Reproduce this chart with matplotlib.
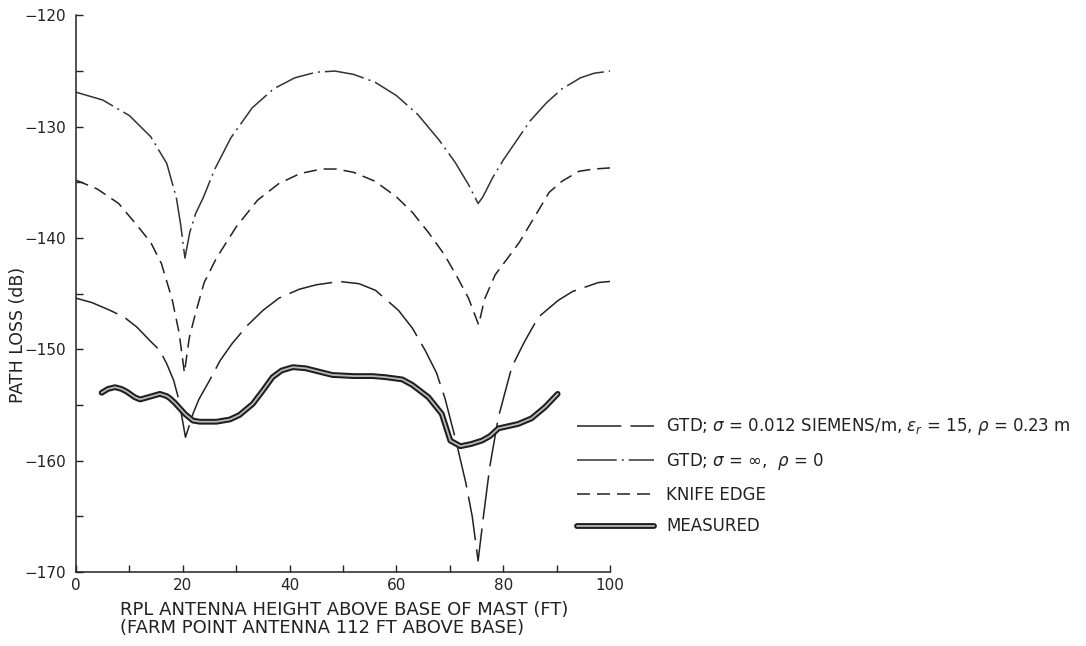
import matplotlib
matplotlib.use("Agg")
import matplotlib.pyplot as plt
import matplotlib.patheffects as pe

# ---------------- data ----------------
# GTD; sigma = infinity, rho = 0  (dash-dot, top curve)
x_inf = [0, 5, 10, 14, 17, 18.8, 19.6, 20.4, 21.3, 22.4, 23.8, 26, 29, 33, 37, 41, 45,
         48.5, 52, 56, 60, 64, 68, 71, 73.5, 75.3, 76.2, 78, 80, 82, 85, 88, 91, 94.5, 97, 100]
y_inf = [-126.9, -127.6, -129.0, -130.9, -133.3, -136.4, -138.8, -141.8, -139.5, -137.8,
         -136.4, -133.8, -131.0, -128.3, -126.6, -125.6, -125.1, -125.0, -125.3, -126.0,
         -127.2, -128.9, -131.2, -133.2, -135.2, -136.9, -136.3, -134.6, -133.0, -131.6,
         -129.5, -127.9, -126.6, -125.6, -125.2, -125.0]

# Knife edge (short dashes)
x_ke = [0, 4, 8, 11.5, 14, 16, 18, 19.3, 20.3, 21.2, 22.3, 24, 26.3, 30, 34, 38, 42, 46,
        48.8, 52, 56, 60, 63, 66, 69, 71.5, 73.5, 75.4, 76.5, 78.5, 81, 83, 86, 88.6, 91,
        94.2, 97, 100]
y_ke = [-134.8, -135.6, -136.9, -138.9, -140.4, -142.3, -145.5, -148.5, -152.1, -149.0,
        -146.9, -144.0, -141.8, -139.0, -136.6, -135.1, -134.2, -133.8, -133.8, -134.1,
        -134.9, -136.3, -137.7, -139.5, -141.5, -143.6, -145.4, -147.8, -145.5, -143.3,
        -141.7, -140.4, -138.0, -135.9, -134.9, -134.0, -133.8, -133.7]

# GTD; sigma = 0.012 S/m, eps_r = 15, rho = 0.23 m (long dashes)
x_gtd = [0, 3, 6.4, 9, 11.4, 13.8, 15.7, 17, 18.3, 19.3, 20.5, 21.9, 23, 25, 27, 29.2, 32,
         35, 38, 41.8, 45, 49.3, 53, 56.1, 60.4, 63, 65.4, 67.5, 69.1, 71.3, 73, 74.2, 75.3,
         76.3, 77.5, 79.1, 81.6, 84, 86.6, 90.3, 93, 97.8, 100]
y_gtd = [-145.4, -145.8, -146.5, -147.1, -148.0, -149.2, -150.1, -151.3, -152.8, -154.6,
         -157.9, -155.8, -154.5, -152.8, -151.0, -149.5, -147.9, -146.5, -145.4, -144.6,
         -144.2, -143.9, -144.1, -144.7, -146.5, -148.1, -150.1, -152.1, -154.4, -158.5,
         -162.0, -165.0, -169.0, -165.0, -160.5, -156.1, -151.6, -149.3, -147.1, -145.6,
         -144.8, -144.0, -143.9]

# Measured
x_meas = [4.8, 6, 7.3, 8.5, 9.5, 11, 12, 13.5, 15.7, 17, 17.6, 18.5, 20.4, 21.9, 23.2,
          26.3, 28.8, 30.6, 33.1, 35, 36.8, 38.5, 40.6, 43.0, 45.5, 48.0, 52, 55.5, 58,
          61.1, 63, 66.0, 68.5, 70.1, 72, 74, 76, 77.5, 79.1, 82.8, 85.3, 87.8, 90.2]
y_meas = [-153.9, -153.55, -153.4, -153.55, -153.8, -154.3, -154.5, -154.3, -154.0,
          -154.2, -154.4, -154.8, -155.8, -156.4, -156.5, -156.5, -156.3, -155.9, -154.9,
          -153.7, -152.5, -151.9, -151.6, -151.7, -152.0, -152.3, -152.4, -152.4, -152.5,
          -152.7, -153.2, -154.3, -155.8, -158.2, -158.7, -158.5, -158.2, -157.8, -157.1,
          -156.7, -156.2, -155.2, -154.0]

y_major = [-120, -130, -140, -150, -160, -170]
x_major = [0, 20, 40, 60, 80, 100]

labels = [r"GTD; $\sigma$ = 0.012 SIEMENS/m, $\epsilon_r$ = 15, $\rho$ = 0.23 m",
          r"GTD; $\sigma$ = $\infty$,  $\rho$ = 0",
          "KNIFE EDGE",
          "MEASURED"]
xlabel_1 = "RPL ANTENNA HEIGHT ABOVE BASE OF MAST (FT)"
xlabel_2 = "(FARM POINT ANTENNA 112 FT ABOVE BASE)"
ylabel = "PATH LOSS (dB)"

# ---------------- figure ----------------
plt.rcParams['font.family'] = ['DejaVu Sans']
plt.rcParams['mathtext.fontset'] = 'dejavusans'
W, H = 1086, 646
fig = plt.figure(figsize=(W / 100, H / 100), dpi=100)
ax = fig.add_axes([76 / W, 1 - 572 / H, (610 - 76) / W, (572 - 15.4) / H])

ink = '#222222'
lw = 1.1
l_gtd, = ax.plot(x_gtd, y_gtd, color=ink, lw=lw, linestyle=(0, (29, 6)))
l_inf, = ax.plot(x_inf, y_inf, color='#333333', lw=lw, linestyle=(0, (26, 3.3, 1.3, 3.3)))
l_ke, = ax.plot(x_ke, y_ke, color=ink, lw=lw, linestyle=(0, (8.5, 4.6)))
l_meas, = ax.plot(x_meas, y_meas, color='#b8b8b8', lw=1.3, solid_capstyle='round',
                  path_effects=[pe.Stroke(linewidth=4.2, foreground='#1e1e1e'), pe.Normal()])

ax.set_xlim(0, 100)
ax.set_ylim(-170, -120)
ax.set_xticks(x_major)
ax.set_xticks(range(0, 101, 10), minor=True)
ax.set_yticks(y_major)
ax.set_yticks(range(-170, -119, 5), minor=True)
ax.set_xticklabels([str(v) for v in x_major])
ax.set_yticklabels([("\u2212" + str(abs(v))) for v in y_major])
for s in ['top', 'right']:
    ax.spines[s].set_visible(False)
for s in ['left', 'bottom']:
    ax.spines[s].set_color(ink)
    ax.spines[s].set_linewidth(1.1)
ax.tick_params(which='both', direction='in', length=5, width=1.0, color=ink,
               labelsize=11, labelcolor=ink)
ax.tick_params(axis='y', pad=7)
ax.tick_params(axis='x', pad=4)

fig.text(18 / W, 1 - 335 / H, ylabel, rotation=90, ha='center', va='center',
         fontsize=12.5, color=ink)
fig.text(120 / W, 1 - 610 / H, xlabel_1, ha='left', va='center', fontsize=13, color=ink)
fig.text(120 / W, 1 - 628 / H, xlabel_2, ha='left', va='center', fontsize=13, color=ink)

leg = ax.legend([l_gtd, l_inf, l_ke, l_meas], labels, loc='upper left',
                bbox_to_anchor=(574 / W, 1 - 413 / H), bbox_transform=fig.transFigure,
                frameon=False, fontsize=12, handlelength=4.6, handletextpad=0.72,
                labelspacing=0.82, borderpad=0.2, borderaxespad=0)
for t in leg.get_texts():
    t.set_color(ink)

fig.savefig("out.png", dpi=100)
